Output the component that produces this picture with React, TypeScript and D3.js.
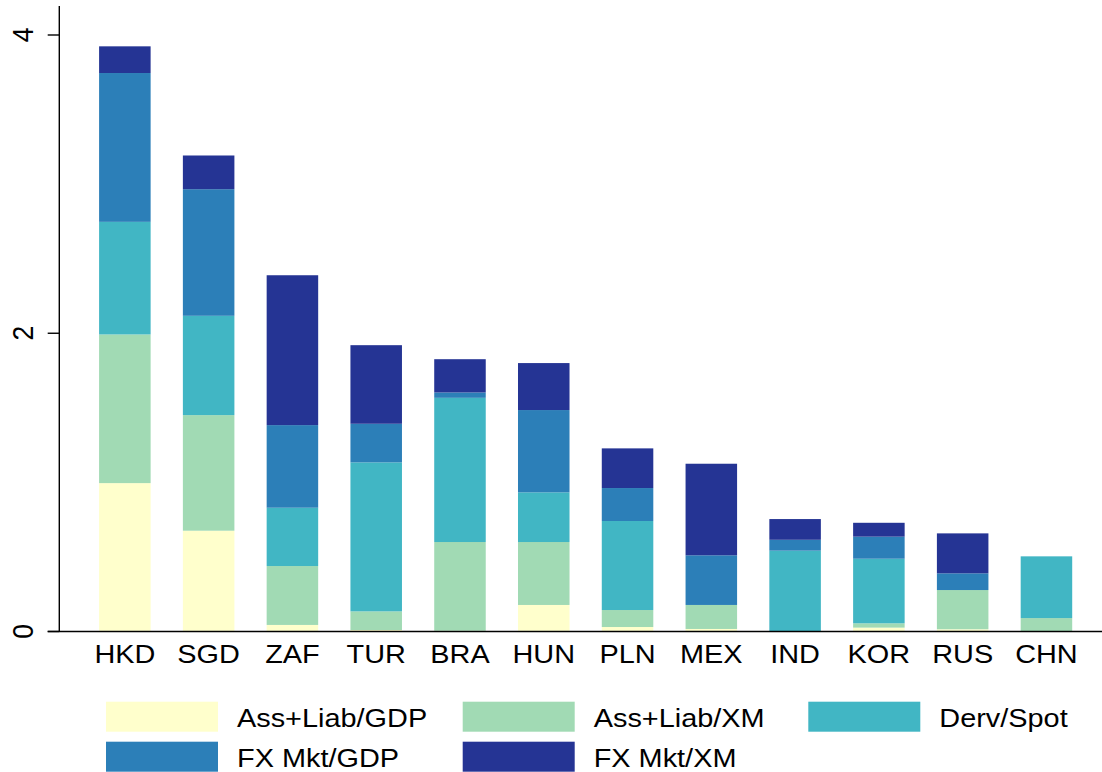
import React from "react";
import * as d3 from "d3";

const categories = ["HKD", "SGD", "ZAF", "TUR", "BRA", "HUN", "PLN", "MEX", "IND", "KOR", "RUS", "CHN"];
const assLiabGDP = [0.995, 0.676, 0.044, 0.01, 0.005, 0.178, 0.03, 0.017, 0, 0.026, 0.015, 0];
const assLiabXM = [0.997, 0.775, 0.395, 0.125, 0.595, 0.422, 0.114, 0.161, 0.003, 0.029, 0.263, 0.09];
const dervSpot = [0.755, 0.666, 0.391, 0.999, 0.967, 0.333, 0.597, 0, 0.539, 0.433, 0, 0.414];
const fxMktGDP = [0.998, 0.849, 0.554, 0.259, 0.036, 0.552, 0.221, 0.333, 0.073, 0.148, 0.112, 0];
const fxMktXM = [0.179, 0.226, 1.005, 0.527, 0.223, 0.315, 0.266, 0.614, 0.139, 0.093, 0.268, 0];
const seriesNames = ["Ass+Liab/GDP", "Ass+Liab/XM", "Derv/Spot", "FX Mkt/GDP", "FX Mkt/XM"];
const seriesColors = ["#ffffcc", "#a1dab4", "#41b6c4", "#2c7fb8", "#253494"];
const yTicks = [0, 2, 4];

const W = 1102;
const H = 772;
const FONT = "'Liberation Sans', Arial, Helvetica, sans-serif";
const FS = 26.5;
const SX = 1.09;

export default function App() {
  const seriesArrays = [assLiabGDP, assLiabXM, dervSpot, fxMktGDP, fxMktXM];
  const rows = categories.map((c, i) => {
    const r: any = { cat: c };
    seriesNames.forEach((s, j) => (r[s] = seriesArrays[j][i]));
    return r;
  });
  const stacked = d3.stack<any>().keys(seriesNames)(rows);

  const x = d3
    .scaleBand<string>()
    .domain(categories)
    .range([59.3, 1112])
    .paddingInner(0.385)
    .paddingOuter(0.475);
  const y = d3.scaleLinear().domain([0, 4]).range([631.5, 35]);
  const axisX = 59.3;

  const legendCols = [106, 462.7, 808.3];
  const legendRows = [701.7, 741.7];

  return (
    <svg
      width={W}
      height={H}
      style={{ position: "absolute", left: 0, top: 0, background: "#fff" }}
    >
      <rect x={0} y={0} width={W} height={H} fill="#fff" />
      {stacked.map((layer, li) => (
        <g key={layer.key} fill={seriesColors[li]}>
          {layer.map((d, i) => {
            const h = y(d[0]) - y(d[1]);
            if (h <= 0) return null;
            return (
              <rect
                key={i}
                x={x(categories[i])}
                y={y(d[1])}
                width={x.bandwidth()}
                height={h}
              />
            );
          })}
        </g>
      ))}
      {/* y axis */}
      <line x1={axisX} x2={axisX} y1={6} y2={y(0)} stroke="#000" strokeWidth={1.4} />
      {yTicks.map((t) => (
        <g key={t}>
          <line x1={47.7} x2={axisX} y1={y(t)} y2={y(t)} stroke="#000" strokeWidth={1.4} />
          <g transform={`translate(33,${y(t)}) scale(${SX},1) rotate(-90)`}>
            <text x={0} y={0} textAnchor="middle" fontFamily={FONT} fontSize={FS} fill="#000">
              {t}
            </text>
          </g>
        </g>
      ))}
      {/* x axis */}
      <line x1={47.7} x2={W} y1={y(0)} y2={y(0)} stroke="#000" strokeWidth={1.7} />
      {categories.map((c) => (
        <g key={c} transform={`translate(${(x(c) as number) + x.bandwidth() / 2},663.3) scale(${SX},1)`}>
          <text x={0} y={0} textAnchor="middle" fontFamily={FONT} fontSize={FS} fill="#000">
            {c}
          </text>
        </g>
      ))}
      {/* legend */}
      {seriesNames.map((s, i) => {
        const col = i % 3;
        const row = Math.floor(i / 3);
        const lx = legendCols[col];
        const ly = legendRows[row];
        return (
          <g key={s}>
            <rect x={lx} y={ly} width={112} height={30} fill={seriesColors[i]} />
            <g transform={`translate(${lx + 112 + 19},${ly + 25.6}) scale(${SX},1)`}>
              <text x={0} y={0} fontFamily={FONT} fontSize={FS} fill="#000">
                {s}
              </text>
            </g>
          </g>
        );
      })}
    </svg>
  );
}
